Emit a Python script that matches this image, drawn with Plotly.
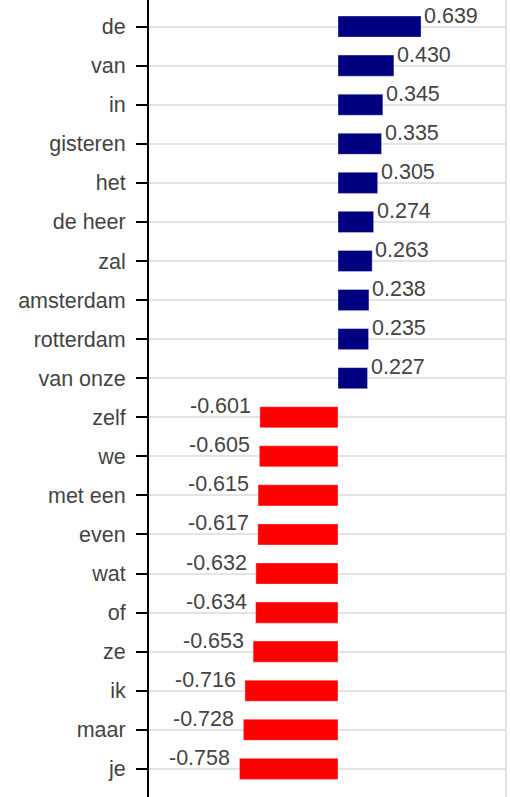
import plotly.graph_objects as go

words = ["de", "van", "in", "gisteren", "het", "de heer", "zal", "amsterdam",
         "rotterdam", "van onze", "zelf", "we", "met een", "even", "wat", "of",
         "ze", "ik", "maar", "je"]
scores = [0.639, 0.430, 0.345, 0.335, 0.305, 0.274, 0.263, 0.238, 0.235, 0.227,
          -0.601, -0.605, -0.615, -0.617, -0.632, -0.634, -0.653, -0.716, -0.728, -0.758]

colors = ["#000080" if s > 0 else "#ff0000" for s in scores]

fig = go.Figure()
fig.add_trace(go.Bar(
    x=scores,
    y=words,
    orientation="h",
    width=0.54,
    marker=dict(color=colors, line=dict(width=1, color="rgba(255,255,255,0.35)")),
    hoverinfo="skip",
))

# value labels sit just above the bar end
for w, s in zip(words, scores):
    fig.add_annotation(
        x=s, y=w,
        text=f"{s:.3f}",
        showarrow=False,
        xanchor="left" if s > 0 else "right",
        yanchor="middle",
        xshift=1 if s > 0 else -7,
        yshift=11,
        font=dict(size=21.5, color="#444"),
    )

fig.update_layout(
    width=510,
    height=797,
    margin=dict(l=149, r=3, t=0, b=0),
    plot_bgcolor="white",
    paper_bgcolor="white",
    showlegend=False,
    font=dict(family="Liberation Sans, Arial, sans-serif", size=21.5, color="#444"),
)
fig.update_xaxes(
    range=[-1.454, 1.3],
    tickvals=[1.29],
    showticklabels=False,
    showgrid=True,
    gridcolor="#e3e3e3",
    gridwidth=2,
    zeroline=False,
    showline=False,
    automargin=False,
)
fig.update_yaxes(
    categoryorder="array",
    categoryarray=words,
    range=[19.72, -0.68],
    showline=True,
    linecolor="black",
    linewidth=2,
    ticks="outside",
    ticklen=11,
    tickwidth=2,
    tickcolor="black",
    ticklabelstandoff=6,
    showgrid=True,
    gridcolor="#e3e3e3",
    gridwidth=2,
    zeroline=False,
    automargin=False,
)

# drop the default body margin so the figure sits flush in the window
fig.write_html("out.html", config={"displayModeBar": False},
               post_script="document.body.style.margin='0';")
